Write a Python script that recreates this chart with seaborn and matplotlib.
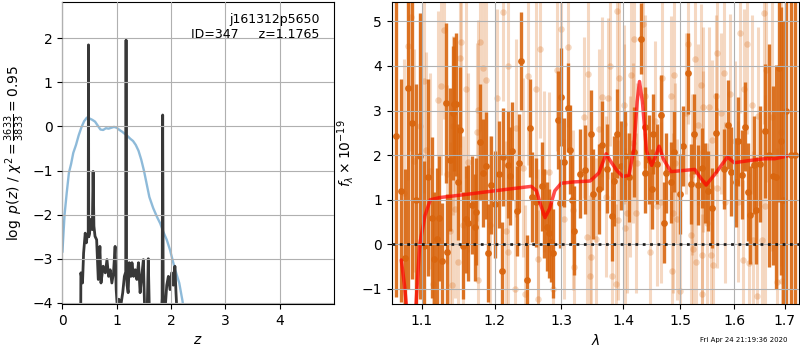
import numpy as np
import pandas as pd
import matplotlib
matplotlib.use('Agg')
import matplotlib.pyplot as plt
from matplotlib.ticker import NullLocator, NullFormatter
import seaborn as sns

# ---- p(z) panel ----
z_grid = [0.0, 0.04, 0.08, 0.12, 0.16, 0.20, 0.25, 0.30, 0.35, 0.40, 0.45, 0.50,
          0.55, 0.60, 0.65, 0.70, 0.75, 0.80, 0.85, 0.90, 0.95, 1.00, 1.05, 1.10,
          1.15, 1.20, 1.25, 1.30, 1.35, 1.40, 1.45, 1.50, 1.55, 1.60, 1.67, 1.74,
          1.80, 1.86, 1.92, 1.98, 2.04, 2.10, 2.15, 2.21, 2.26, 2.32]
chi2_curve = [-2.85, -2.0, -1.5, -1.05, -0.85, -0.6, -0.42, -0.2, -0.02, 0.12, 0.2, 0.18,
              0.15, 0.11, 0.02, -0.07, -0.08, -0.04, -0.05, -0.03, -0.01, -0.03, -0.08, -0.12,
              -0.17, -0.22, -0.28, -0.33, -0.42, -0.55, -0.75, -1.0, -1.3, -1.6, -1.85, -2.05,
              -2.2, -2.4, -2.57, -2.8, -3.09, -3.35, -3.55, -3.96, -4.4, -5.0]

z_pz = [0.335, 0.34, 0.37, 0.39, 0.42, 0.44, 0.46, 0.475, 0.48, 0.485, 0.50, 0.52,
        0.55, 0.565, 0.58, 0.60, 0.63, 0.66, 0.69, 0.71, 0.75, 0.79, 0.82, 0.85,
        0.88, 0.91, 0.94, 0.97, 0.99, 1.01, 1.04, 1.07, 1.11, 1.14, 1.165, 1.1715,
        1.178, 1.19, 1.21, 1.23, 1.26, 1.28, 1.31, 1.34, 1.37, 1.40, 1.43, 1.46,
        1.49, 1.52, 1.555, 1.58, 1.605, 1.70, 1.81, 1.835, 1.845, 1.855, 1.87, 1.92,
        1.95, 1.98, 2.01, 2.04, 2.07, 2.09, 2.12]
log_pz = [-5.0, -3.32, -3.55, -2.87, -2.42, -2.64, -2.45, -2.5, 1.85, -2.5, -2.42, -2.11,
          -2.34, -1.02, -2.26, -2.49, -2.57, -3.47, -2.72, -3.55, -3.17, -3.32, -3.02, -3.4,
          -3.25, -3.55, -3.32, -2.72, -3.7, -4.1, -3.92, -4.1, -3.77, -3.4, -3.3, 1.96,
          -3.17, -3.6, -3.77, -3.09, -3.4, -3.09, -3.4, -3.25, -3.47, -3.09, -3.77, -3.4,
          -3.02, -4.5, -4.5, -3.0, -4.5, -4.5, -4.5, -3.9, 0.26, -3.9, -4.5, -3.6,
          -3.4, -3.7, -3.32, -3.6, -3.17, -3.77, -4.5]

# ---- spectrum panel ----
lam_model = [1.073, 1.077, 1.081, 1.085, 1.089, 1.093, 1.097, 1.104, 1.111, 1.124,
             1.15, 1.20, 1.254, 1.262, 1.268, 1.275, 1.282, 1.29, 1.30, 1.32,
             1.346, 1.36, 1.372, 1.38, 1.39, 1.40, 1.41, 1.418, 1.424, 1.428,
             1.433, 1.44, 1.449, 1.455, 1.462, 1.47, 1.483, 1.526, 1.536, 1.547,
             1.565, 1.587, 1.60, 1.63, 1.66, 1.68, 1.705]
f_model = [-0.35, -0.9, -1.6, -2.4, -2.2, -1.1, 0.0, 0.65, 1.0, 1.05,
           1.1, 1.2, 1.3, 1.2, 0.9, 0.6, 0.8, 1.2, 1.37, 1.4,
           1.42, 1.6, 2.03, 1.85, 1.65, 1.52, 1.55, 2.1, 3.2, 3.65,
           3.2, 2.1, 1.77, 1.95, 2.2, 1.9, 1.63, 1.68, 1.5, 1.33,
           1.6, 1.96, 1.83, 1.88, 1.92, 1.92, 1.98]

lam_hi = [1.066, 1.072, 1.078, 1.082, 1.087, 1.092, 1.098, 1.103, 1.108, 1.113,
          1.116, 1.120, 1.123, 1.127, 1.132, 1.134, 1.138, 1.142, 1.143, 1.146,
          1.149, 1.152, 1.156, 1.160, 1.163, 1.168, 1.172, 1.174, 1.179, 1.184,
          1.188, 1.191, 1.195, 1.200, 1.206, 1.211, 1.213, 1.220, 1.222, 1.226,
          1.233, 1.236, 1.239, 1.247, 1.252, 1.255, 1.262, 1.270, 1.274, 1.278,
          1.281, 1.284, 1.288, 1.295, 1.298, 1.300, 1.305, 1.310, 1.313, 1.317,
          1.320, 1.330, 1.337, 1.348, 1.351, 1.360, 1.366, 1.373, 1.382, 1.385,
          1.390, 1.396, 1.404, 1.410, 1.419, 1.431, 1.437, 1.438, 1.444, 1.449,
          1.452, 1.459, 1.465, 1.470, 1.474, 1.483, 1.489, 1.500, 1.505, 1.514,
          1.519, 1.525, 1.531, 1.539, 1.545, 1.551, 1.558, 1.565, 1.580, 1.588,
          1.593, 1.603, 1.608, 1.614, 1.621, 1.627, 1.630, 1.638, 1.643, 1.650,
          1.660, 1.668, 1.676, 1.682, 1.688, 1.692, 1.697, 1.702, 1.713, 1.722]
flux_hi = [2.42, 1.2, -0.3, 3.5, 2.72, 1.0, 1.98, -0.04, 1.5, 0.6,
           -0.33, 0.11, 0.58, -0.37, 3.17, -0.18, 1.9, 2.94, 3.15, 3.14,
           1.39, 2.57, -0.03, 0.56, 0.49, 0.88, 0.38, 0.73, 2.29, 1.6,
           1.76, -0.2, 1.33, 0.9, 1.57, -0.6, 1.95, 1.78, 1.54, 2.1,
           0.75, 1.83, 4.11, -0.8, 2.61, 1.06, 0.94, 1.3, 0.7, 0.4,
           0.25, 0.06, -0.2, 2.79, 0.92, 3.3, 1.84, 3.06, 2.12, 1.0,
           0.31, 1.58, 1.67, 2.47, 1.13, 1.24, 2.22, 1.7, 0.63, 1.42,
           2.48, 1.76, 1.98, 1.5, 2.07, 4.61, 2.62, 1.6, 1.9, 1.24,
           2.48, 1.8, 2.9, 0.49, 1.6, 1.39, 2.08, 1.13, 2.21, 3.83,
           1.35, 2.48, 1.33, 1.71, 1.37, 1.2, 0.81, 2.49, 1.69, 2.68,
           1.63, 1.39, 2.31, 1.56, 2.64, 1.18, 0.66, 1.78, 0.76, 1.8,
           2.55, 2.0, 1.54, 1.51, 3.96, 2.31, 1.0, 3.0, 2.0, 2.0]
err_hi = [3.6, 2.5, 2.0, 4.5, 3.5, 2.6, 3.2, 1.9, 2.2, 1.8,
          1.5, 1.6, 1.4, 1.3, 1.8, 1.3, 1.6, 1.5, 1.5, 1.6,
          1.3, 1.4, 1.2, 1.2, 1.3, 1.1, 1.2, 1.2, 1.3, 1.2,
          1.2, 1.1, 1.1, 1.2, 1.2, 1.1, 1.1, 1.2, 1.1, 1.1,
          1.0, 1.1, 1.1, 1.0, 1.1, 1.0, 1.0, 1.0, 1.0, 1.0,
          1.0, 0.9, 1.0, 1.1, 1.0, 1.1, 1.0, 1.0, 1.0, 1.0,
          1.0, 1.0, 1.0, 1.0, 1.0, 1.0, 1.0, 1.0, 1.0, 1.0,
          1.0, 1.0, 1.0, 1.0, 1.0, 0.8, 0.9, 0.9, 1.0, 0.9,
          0.9, 0.9, 0.9, 0.9, 0.9, 0.9, 0.9, 0.9, 0.9, 0.9,
          0.9, 0.9, 0.9, 0.9, 0.9, 0.9, 0.9, 0.9, 0.9, 1.0,
          1.0, 1.0, 1.0, 1.0, 1.0, 1.1, 1.1, 1.1, 1.2, 1.3,
          1.5, 2.5, 2.0, 2.5, 3.0, 3.0, 4.0, 6.0, 9.0, 9.0]

lam_lo = [1.077, 1.082, 1.085, 1.090, 1.098, 1.102, 1.105, 1.111, 1.114, 1.121,
          1.125, 1.130, 1.133, 1.138, 1.140, 1.142, 1.144, 1.148, 1.151, 1.153,
          1.155, 1.159, 1.163, 1.175, 1.176, 1.177, 1.179, 1.184, 1.188, 1.1935,
          1.204, 1.212, 1.217, 1.219, 1.220, 1.230, 1.232, 1.242, 1.244, 1.249,
          1.261, 1.264, 1.265, 1.267, 1.274, 1.281, 1.288, 1.293, 1.300, 1.305,
          1.310, 1.318, 1.320, 1.336, 1.341, 1.342, 1.345, 1.347, 1.356, 1.361,
          1.365, 1.372, 1.375, 1.378, 1.382, 1.389, 1.390, 1.392, 1.393, 1.401,
          1.402, 1.404, 1.407, 1.411, 1.414, 1.417, 1.418, 1.422, 1.424, 1.434,
          1.437, 1.446, 1.455, 1.459, 1.466, 1.467, 1.483, 1.484, 1.487, 1.489,
          1.490, 1.493, 1.499, 1.510, 1.513, 1.519, 1.520, 1.522, 1.526, 1.528,
          1.532, 1.537, 1.539, 1.540, 1.541, 1.542, 1.548, 1.552, 1.556, 1.558,
          1.560, 1.565, 1.567, 1.568, 1.575, 1.580, 1.583, 1.592, 1.602, 1.608,
          1.611, 1.616, 1.618, 1.625, 1.628, 1.634, 1.637, 1.644, 1.646, 1.655,
          1.658, 1.660, 1.662, 1.674, 1.684, 1.692, 1.695]
flux_lo = [1.16, 4.44, 5.1, 1.87, 2.66, 3.66, 2.12, 1.65, -0.88, 3.23,
           3.56, 4.8, 1.57, 0.3, -0.9, 2.66, 0.79, -0.39, 4.18, 4.53,
           0.43, 3.48, 1.84, 2.52, 3.02, -0.8, 4.54, 3.96, 3.68, 0.43,
           3.27, 5.21, 0.31, -0.18, 4.0, -1.0, 2.61, 1.72, -1.12, 3.77,
           3.48, -1.23, -0.32, 4.38, 1.63, 1.62, -1.0, 3.9, 4.82, 0.57,
           4.43, 0.77, -0.5, 2.85, 0.16, 3.81, -0.7, -0.28, 0.13, 2.58,
           3.3, 1.07, 3.27, 4.0, -0.71, -0.89, 5.22, 0.55, 3.73, 3.12,
           2.7, 0.36, 0.7, 1.52, 3.8, 2.27, 4.61, 0.7, 1.82, 4.94,
           3.33, -0.18, 2.76, 0.86, 0.94, 3.72, 3.32, -0.6, 0.7, 3.8,
           1.82, 0.56, -1.05, 2.94, 4.49, 0.21, 1.56, -0.11, 4.16, -0.4,
           2.68, 3.58, -1.12, -0.24, 2.08, 3.08, 0.47, 3.08, -0.24, 2.34,
           -0.46, 3.33, 4.29, 1.26, 2.94, 3.84, 0.94, 3.36, 2.31, 0.96,
           4.74, -0.35, 3.48, 4.48, -0.41, 3.13, 0.1, -1.16, 2.87, 0.1,
           5.19, 0.85, 3.9, 2.85, -0.85, 2.52, -0.82]
err_lo = [3.0, 3.0, 3.0, 2.5, 2.5, 2.5, 2.2, 2.2, 2.0, 2.0,
          2.0, 2.0, 2.0, 2.0, 2.0, 2.0, 2.0, 2.0, 2.0, 2.0,
          2.0, 2.0, 2.0, 2.0, 2.0, 2.0, 2.0, 2.0, 2.0, 2.0,
          2.0, 2.0, 2.0, 2.0, 2.0, 2.0, 2.0, 2.0, 2.0, 2.0,
          2.0, 2.0, 2.0, 2.0, 1.8, 1.8, 1.8, 1.8, 1.8, 1.8,
          1.8, 1.8, 1.8, 1.8, 1.8, 1.8, 1.8, 1.8, 1.8, 1.8,
          1.8, 1.8, 1.8, 1.8, 1.8, 1.8, 1.8, 1.8, 1.8, 1.8,
          1.8, 1.8, 1.8, 1.8, 1.8, 1.8, 1.8, 1.8, 1.8, 1.8,
          1.8, 1.8, 1.8, 1.8, 1.8, 1.8, 1.8, 1.8, 1.8, 1.8,
          1.8, 1.8, 1.8, 1.8, 1.8, 1.8, 1.8, 1.8, 1.8, 1.8,
          1.8, 1.8, 1.8, 1.8, 1.8, 1.8, 1.8, 1.8, 1.8, 1.8,
          1.8, 1.8, 1.8, 1.8, 1.8, 1.8, 1.8, 1.8, 1.8, 1.8,
          1.8, 1.8, 1.8, 2.0, 2.0, 2.0, 2.0, 2.0, 2.0, 2.5,
          2.5, 2.5, 2.5, 3.0, 3.0, 3.0, 3.0]

lam_ticks = [1.1, 1.2, 1.3, 1.4, 1.5, 1.6, 1.7]
orange = '#d9660f'

sns.set_style('ticks', {'axes.grid': True, 'grid.color': '#b0b0b0', 'grid.linestyle': '-',
                        'axes.edgecolor': 'k', 'text.color': 'k', 'axes.labelcolor': 'k',
                        'xtick.color': 'k', 'ytick.color': 'k'})
plt.rcParams['font.family'] = ['DejaVu Sans']
plt.rcParams['grid.linewidth'] = 0.8

fig = plt.figure(figsize=(8, 3.5), dpi=100)
ax1 = fig.add_axes([0.078, 0.131, 0.339, 0.863])
ax2 = fig.add_axes([0.4896, 0.131, 0.509, 0.863])

# left: p(z)
sns.lineplot(x=z_grid, y=chi2_curve, ax=ax1, color='tab:blue', alpha=0.5, lw=1.7,
             estimator=None, sort=False)
sns.lineplot(x=z_pz, y=log_pz, ax=ax1, color='0.22', lw=2, estimator=None, sort=False)
ax1.set_xlim(0, 4.99)
ax1.set_ylim(-4.03, 2.82)
ax1.set_xticks([0, 1, 2, 3, 4])
ax1.set_xlabel('$z$')
ax1.set_ylabel(r'$\log\ p(z)$' + ' / ' + r'$\chi^2=\frac{3633}{3833}=0.95$')
ax1.text(0.948, 0.965, 'j161312p5650\nID=347     z=1.1765', ha='right', va='top',
         fontsize=9, transform=ax1.transAxes)
ax1.set_axisbelow(False)

# right: spectrum
ax2.errorbar(lam_lo, flux_lo, yerr=err_lo, fmt='none', ecolor=orange, alpha=0.25, lw=2.2)
sns.scatterplot(x=lam_lo, y=flux_lo, ax=ax2, color=orange, alpha=0.25, s=22, linewidth=0)
ax2.errorbar(lam_hi, flux_hi, yerr=err_hi, fmt='none', ecolor=orange, alpha=0.9, lw=2.4)
sns.scatterplot(x=lam_hi, y=flux_hi, ax=ax2, color=orange, alpha=0.95, s=24, linewidth=0)
sns.lineplot(x=lam_model, y=f_model, ax=ax2, color='r', alpha=0.7, lw=2.5,
             estimator=None, sort=False)
ax2.axhline(0, color='k', ls=':', lw=2, alpha=0.85, zorder=5)
ax2.set_xscale('log')
ax2.set_xlim(1.0607, 1.729)
ax2.set_ylim(-1.34, 5.43)
ax2.set_xticks(lam_ticks)
ax2.set_xticklabels([str(t) for t in lam_ticks])
ax2.xaxis.set_minor_locator(NullLocator())
ax2.xaxis.set_minor_formatter(NullFormatter())
ax2.set_xlabel(r'$\lambda$')
ax2.set_ylabel(r'$f_\lambda\times10^{-19}$')
ax2.set_axisbelow(False)

fig.text(0.985, 0.028, 'Fri Apr 24 21:19:36 2020', ha='right', va='center', fontsize=5)

fig.savefig('out.png', dpi=100)
